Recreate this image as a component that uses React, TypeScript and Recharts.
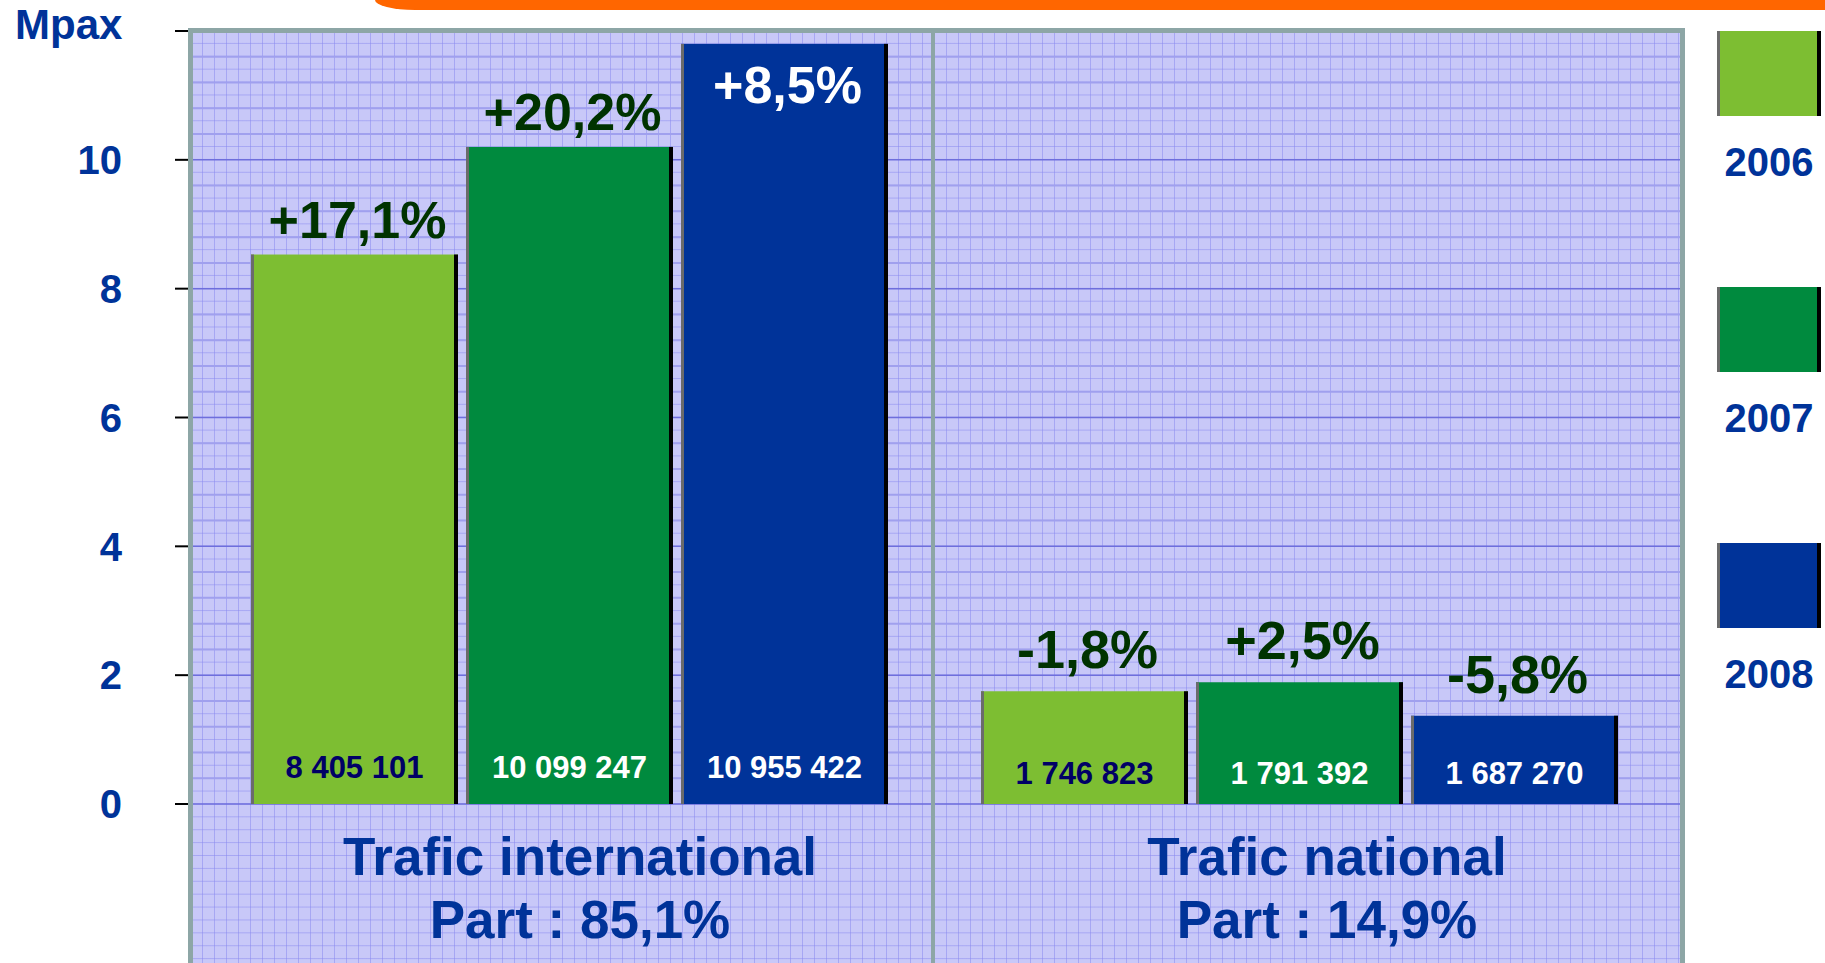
import React from 'react';
import { BarChart, Bar, XAxis, YAxis, CartesianGrid } from 'recharts';

const categories = ['Trafic international', 'Trafic national'];
const shares = ['Part : 85,1%', 'Part : 14,9%'];
const years = ['2006', '2007', '2008'];
const colors = ['#7DBE32', '#008A3E', '#003399'];

// bar heights in Mpax as drawn on the slide
const mpax2006 = [8.53, 1.75];
const mpax2007 = [10.2, 1.89];
const mpax2008 = [11.8, 1.37];

const pax2006 = ['8 405 101', '1 746 823'];
const pax2007 = ['10 099 247', '1 791 392'];
const pax2008 = ['10 955 422', '1 687 270'];

const growth2006 = ['+17,1%', '-1,8%'];
const growth2007 = ['+20,2%', '+2,5%'];
const growth2008 = ['+8,5%', '-5,8%'];

const yTicks = [0, 2, 4, 6, 8, 10, 12];

const data = categories.map((c, i) => ({
  name: c,
  share: shares[i],
  y2006: mpax2006[i],
  y2007: mpax2007[i],
  y2008: mpax2008[i],
}));

// background rules every 0.4 Mpax, darker ones on the labelled ticks
const minorGrid = Array.from({ length: 30 }, (_, i) => +(i * 0.4).toFixed(1)).filter(
  (v) => v % 2 !== 0
);
const majorGrid = [0, 2, 4, 6, 8, 10];

const FONT = '"Liberation Sans", Arial, sans-serif';
const BLUE = '#003399';
const DARK_GREEN = '#003300';

const makeShape = (paxLabels: string[], growthLabels: string[], valueColor: string) => (props: any) => {
  const { x, y, width, height, fill, index } = props;
  const bottom = y + height;
  const valueOff = index === 0 ? 26 : 20;
  const growthOff = index === 0 ? 17 : 23;
  const inside = y < 110;
  return (
    <g>
      <rect x={x} y={y} width={width} height={height} fill={fill} />
      <rect x={x} y={y} width={3} height={height} fill="#6b6b6b" />
      <rect x={x + width - 4} y={y} width={4} height={height} fill="#000" />
      <text
        x={x + width / 2}
        y={bottom - valueOff}
        textAnchor="middle"
        fill={valueColor}
        fontSize={31}
        fontWeight="bold"
        fontFamily={FONT}
      >
        {paxLabels[index]}
      </text>
      <text
        x={x + width / 2 + 3}
        y={inside ? y + 59 : y - growthOff}
        textAnchor="middle"
        fill={inside ? '#fff' : DARK_GREEN}
        fontSize={index === 0 ? 52 : 54}
        fontWeight="bold"
        fontFamily={FONT}
      >
        {growthLabels[index]}
      </text>
    </g>
  );
};

const CategoryTick = (props: any) => {
  const { x, y, payload, index } = props;
  const dx = index === 0 ? 11 : 28;
  return (
    <g>
      <text x={x + dx} y={y + 71} textAnchor="middle" fill={BLUE} fontSize={53} fontWeight="bold" fontFamily={FONT}>
        {payload.value}
      </text>
      <text x={x + dx} y={y + 134} textAnchor="middle" fill={BLUE} fontSize={53} fontWeight="bold" fontFamily={FONT}>
        {shares[index]}
      </text>
    </g>
  );
};

const App = () => {
  return (
    <div
      style={{
        position: 'absolute',
        left: 0,
        top: 0,
        width: 1825,
        height: 963,
        overflow: 'hidden',
        background: '#fff',
        fontFamily: FONT,
      }}
    >
      <div
        style={{
          position: 'absolute',
          left: 375,
          top: 0,
          width: 1450,
          height: 10,
          background: '#FF6600',
          borderBottomLeftRadius: '40px 10px',
        }}
      />
      <div
        style={{
          position: 'absolute',
          left: 190,
          top: 30,
          width: 1492,
          height: 933,
          backgroundColor: '#C8C8F8',
          backgroundImage:
            'linear-gradient(to right, rgba(140,140,240,0.55) 1px, transparent 1px), linear-gradient(to bottom, rgba(140,140,240,0.55) 1px, transparent 1px)',
          backgroundSize: '12px 12.9px',
        }}
      />
      <div
        style={{
          position: 'absolute',
          left: 15,
          top: 4,
          fontSize: 42,
          lineHeight: '42px',
          fontWeight: 'bold',
          color: BLUE,
        }}
      >
        Mpax
      </div>
      <div style={{ position: 'absolute', left: 0, top: 0 }}>
        <BarChart
          width={1825}
          height={963}
          data={data}
          margin={{ top: 31, right: 145, bottom: 0, left: 0 }}
          barSize={207}
          barGap={8}
        >
          <CartesianGrid vertical={false} horizontalValues={minorGrid} stroke="#A0A0EE" strokeWidth={2} />
          <CartesianGrid vertical={false} horizontalValues={majorGrid} stroke="#6E6EDC" strokeWidth={1.5} />
          <XAxis
            dataKey="name"
            height={159}
            padding={{ left: 14, right: 16 }}
            axisLine={false}
            tickLine={false}
            tickSize={0}
            tickMargin={0}
            tick={<CategoryTick />}
            interval={0}
          />
          <YAxis
            width={190}
            domain={[0, 12]}
            ticks={yTicks}
            interval={0}
            axisLine={false}
            tickLine={{ stroke: '#000', strokeWidth: 2 }}
            tickSize={15}
            tickMargin={53}
            tickFormatter={(v) => (v === 12 ? '' : String(v))}
            tick={{ fill: BLUE, fontSize: 40, fontWeight: 'bold', fontFamily: FONT }}
          />
          <Bar dataKey="y2006" name={years[0]} fill={colors[0]} isAnimationActive={false} shape={makeShape(pax2006, growth2006, '#000066')} />
          <Bar dataKey="y2007" name={years[1]} fill={colors[1]} isAnimationActive={false} shape={makeShape(pax2007, growth2007, '#fff')} />
          <Bar dataKey="y2008" name={years[2]} fill={colors[2]} isAnimationActive={false} shape={makeShape(pax2008, growth2008, '#fff')} />
        </BarChart>
      </div>
      {/* plot frame and divider */}
      <div
        style={{
          position: 'absolute',
          left: 188,
          top: 28,
          width: 1497,
          height: 940,
          boxSizing: 'border-box',
          borderLeft: '5px solid #8DA6A6',
          borderTop: '5px solid #8DA6A6',
          borderRight: '5px solid #8DA6A6',
          pointerEvents: 'none',
        }}
      />
      <div
        style={{ position: 'absolute', left: 931, top: 28, width: 4, height: 935, background: '#8DA6A6' }}
      />
      {years.map((yr, i) => (
        <div key={yr} style={{ position: 'absolute', left: 1717, top: 31 + i * 256, width: 108 }}>
          <div
            style={{
              width: 104,
              height: 85,
              boxSizing: 'border-box',
              background: colors[i],
              borderLeft: '3px solid #6b6b6b',
              borderRight: '4px solid #000',
            }}
          />
          <div
            style={{
              width: 104,
              marginTop: 26,
              textAlign: 'center',
              fontSize: 40,
              lineHeight: '40px',
              fontWeight: 'bold',
              color: BLUE,
            }}
          >
            {yr}
          </div>
        </div>
      ))}
    </div>
  );
};

export default App;
